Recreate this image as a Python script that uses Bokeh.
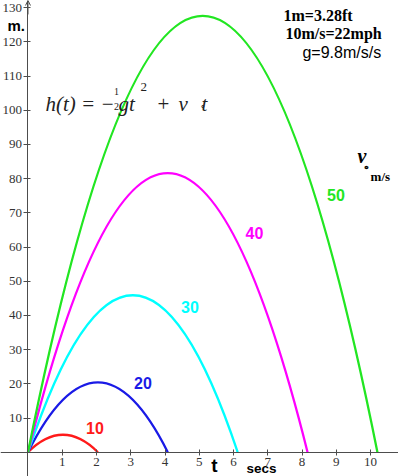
from bokeh.plotting import figure
from bokeh.models import Label, FixedTicker, Arrow, OpenHead, Range1d, ColumnDataSource
from bokeh.embed import file_html
from bokeh.resources import INLINE

# ---- data ----
v_values = [10, 20, 30, 40, 50]                     # launch speed, m/s
flight_time = [2.04, 4.08, 6.12, 8.16, 10.2]        # s, where each curve lands
max_height = [5.1, 20.4, 45.9, 81.6, 127.6]         # m, top of each curve
colors = ["#ff1a1a", "#1a1ae6", "#00ffff", "#ff00ff", "#22e622"]

x_ticks = [1, 2, 3, 4, 5, 6, 7, 8, 9, 10]
y_ticks = [10, 20, 30, 40, 50, 60, 70, 80, 90, 100, 110, 120, 130]

# each trajectory is a parabola: a quadratic Bezier from (0,0) to (T,0)
# whose control point sits at (T/2, 2*Hmax)
src = ColumnDataSource(dict(
    x0=[0] * len(flight_time), y0=[0] * len(flight_time),
    x1=flight_time, y1=[0] * len(flight_time),
    cx=[t / 2 for t in flight_time], cy=[2 * h for h in max_height],
    color=colors,
))

AXIS = "#4d4d4d"
TXT = "#333333"

p = figure(width=398, height=476, output_backend="svg", toolbar_location=None,
           x_range=Range1d(-0.8027, 10.815), y_range=Range1d(-7.105, 132.08),
           min_border=0, background_fill_color="white", border_fill_color="white")
p.outline_line_color = None
p.grid.visible = False

for ax in (p.xaxis, p.yaxis):
    ax.fixed_location = 0
    ax.axis_line_color = AXIS
    ax.axis_line_width = 1
    ax.major_tick_line_color = AXIS
    ax.minor_tick_line_color = None
    ax.major_label_text_font = "Liberation Serif"
    ax.major_label_text_font_size = "13px"
    ax.major_label_text_color = TXT

p.xaxis.ticker = FixedTicker(ticks=x_ticks)
p.yaxis.ticker = FixedTicker(ticks=y_ticks)
p.xaxis.major_tick_in = 3
p.xaxis.major_tick_out = 3
p.xaxis.major_label_standoff = 3
p.yaxis.major_tick_in = 3
p.yaxis.major_tick_out = 4
p.yaxis.major_label_standoff = 2

p.add_layout(Arrow(end=OpenHead(size=5, line_color=AXIS, line_width=1),
                   x_start=0, y_start=128, x_end=0, y_end=132.08,
                   line_color=AXIS, line_width=1))

p.quadratic(x0="x0", y0="y0", x1="x1", y1="y1", cx="cx", cy="cy",
            line_color="color", line_width=2.3, source=src)

# curve labels
label_pos = [(1.955, 7.2), (3.357, 20.1), (4.728, 42.6), (6.611, 64.1), (8.99, 75.1)]
for v, c, (lx, ly) in zip(v_values, colors, label_pos):
    p.add_layout(Label(x=lx, y=ly, text=str(v), text_color=c, text_font="Liberation Sans",
                       text_font_style="bold", text_font_size="16px",
                       text_align="center", text_baseline="middle"))

def lab(x, y, text, font="Liberation Serif", size="16px", style="normal",
        align="left", baseline="middle", color="black"):
    p.add_layout(Label(x=x, y=y, text=text, text_font=font, text_font_size=size,
                       text_font_style=style, text_align=align, text_baseline=baseline,
                       text_color=color))

# top right notes
lab(7.458, 127.7, "1m=3.28ft", style="bold")
lab(7.516, 122.4, "10m/s=22mph", style="bold")
lab(8.012, 117.0, "g=9.8m/s/s", font="Liberation Sans")

# axis titles
lab(-0.598, 124.8, "m.", font="Liberation Sans", style="bold", size="15px")
lab(5.443, -6.95, "t", font="Liberation Sans", style="bold", size="19px", align="center",
    baseline="bottom")
lab(6.378, -6.95, "secs", font="Liberation Sans", style="bold", size="13.5px",
    baseline="bottom")

# v0 legend title
lab(9.618, 86.6, "v", style="bold italic", size="20px")
lab(9.78, 83.4, "\u2218", style="bold", size="11px")
lab(10.0, 80.6, "m/s", style="bold", size="13px")

# formula
FB = 101.96
INK = "#222222"
lab(0.511, FB, "h(t) = \u2212", style="italic", size="21px", baseline="alphabetic", color=INK)
lab(2.51, 105.6, "1", size="10px", color=INK)
lab(2.51, 101.0, "2", size="10px", color=INK)
lab(2.642, FB, "gt", style="italic", size="21px", baseline="alphabetic", color=INK)
lab(3.284, 106.9, "2", size="13px", color=INK)
lab(3.78, FB, "+", size="21px", baseline="alphabetic", color=INK)
lab(4.393, FB, "v", style="italic", size="21px", baseline="alphabetic", color=INK)
lab(5.064, FB, "t", style="italic", size="21px", baseline="alphabetic", color=INK)
lab(5.108, 101.0, "\u2218", size="9px", align="center", color=INK)

open("out.html", "w").write(file_html(p, INLINE))
